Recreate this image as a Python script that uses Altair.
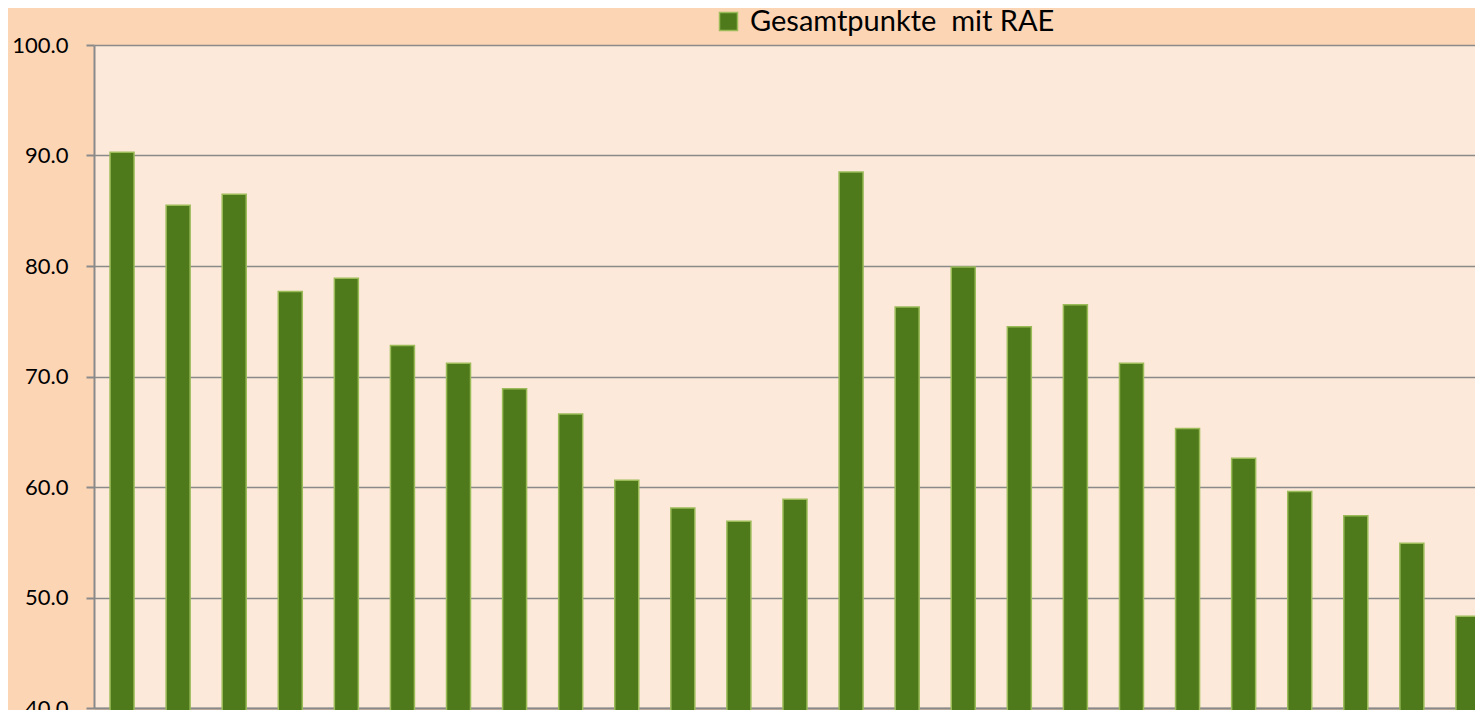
import altair as alt
import pandas as pd

categories = [str(i) for i in range(1, 26)]
values = [90.3, 85.5, 86.5, 77.7, 78.9, 72.8, 71.2, 68.9, 66.6, 60.6, 58.1, 56.9, 58.9,
          88.5, 76.3, 79.9, 74.5, 76.5, 71.2, 65.3, 62.6, 59.6, 57.4, 54.9, 48.3]
series_name = "Gesamtpunkte\u00a0 mit RAE"
y_ticks = [40, 50, 60, 70, 80, 90, 100]

df = pd.DataFrame({"cat": categories, "val": values, "series": [series_name] * len(values)})

FILL = "#4E7A1B"
STROKE = "#9BBB59"
GRID = "#8A8A8A"
FONT = "Lato"

bars = alt.Chart(df).mark_bar(stroke=STROKE, strokeWidth=1.5).encode(
    x=alt.X("cat:N", sort=categories,
            scale=alt.Scale(paddingInner=0.572, paddingOuter=0.286, range=[0, 1402]),
            axis=alt.Axis(title=None, labels=False, ticks=False, domain=True,
                          domainColor=GRID, domainWidth=2)),
    y=alt.Y("val:Q", scale=alt.Scale(domain=[40, 100], nice=False, zero=False),
            axis=alt.Axis(title=None, values=y_ticks, format=".1f", grid=True,
                          gridColor=GRID, gridWidth=1.5, domainColor=GRID, domainWidth=2,
                          tickColor=GRID, tickWidth=2, tickSize=8, labelPadding=18,
                          labelFont=FONT, labelFontSize=22, labelColor="#000000")),
    color=alt.Color("series:N", scale=alt.Scale(range=[FILL]),
                    legend=alt.Legend(title=None, orient="none", legendX=620, legendY=-38,
                                      symbolType="square", symbolSize=324,
                                      symbolStrokeColor=STROKE, symbolStrokeWidth=1.5,
                                      symbolFillColor=FILL, labelLimit=0,
                                      labelFont=FONT, labelFontSize=29, labelColor="#000000",
                                      labelOffset=7, padding=0)),
)

chart = bars.properties(
    width=1381, height=663, background="#FCD5B5",
    autosize=alt.AutoSizeParams(type="none"),
    padding={"left": 86, "top": 37, "right": 0, "bottom": 2}
).configure_view(fill="#FDE9D9", stroke=None)

chart.save("out.html", embed_options={"renderer": "svg", "actions": False})
